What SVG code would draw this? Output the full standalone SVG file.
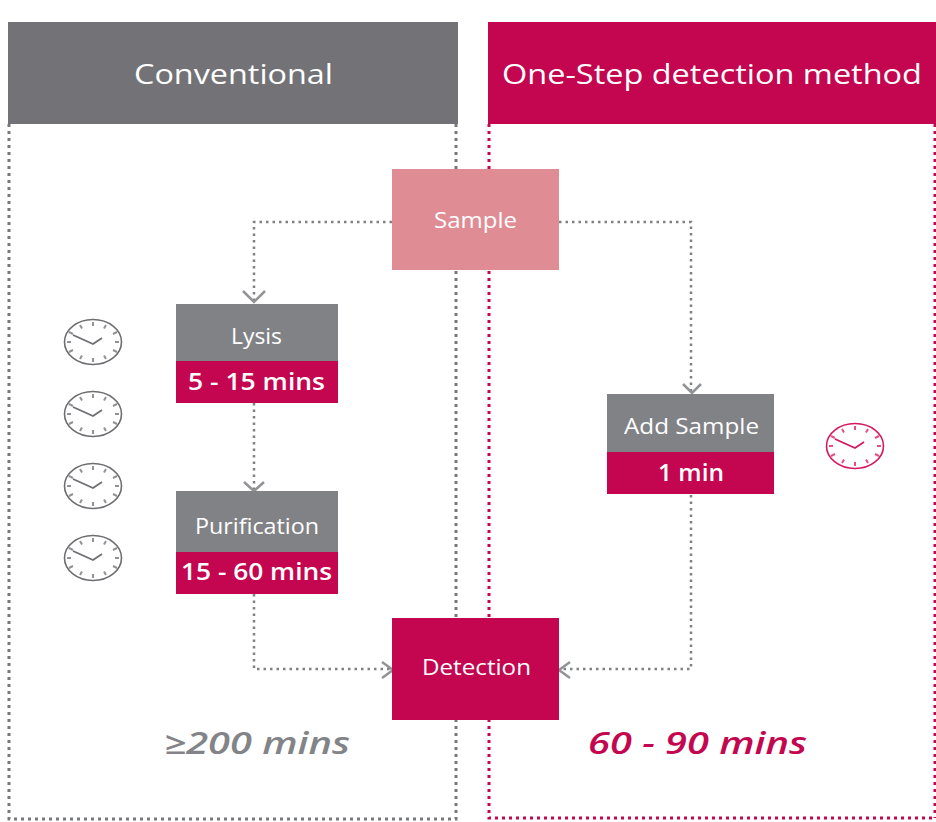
<svg xmlns="http://www.w3.org/2000/svg" width="936" height="822" viewBox="0 0 936 822">
<style>
text{font-family:"Open Sans","Liberation Sans",sans-serif;text-anchor:middle}
.w{fill:#fff}
.t{font-size:23px;font-weight:600}
.g{fill:#737377}.gl{fill:#818286}.r{fill:#c3064f}
.dg{fill:none;stroke:#808184;stroke-width:2.500;stroke-dasharray:2.500 4}
.dgp{fill:none;stroke:#77787b;stroke-width:3;stroke-dasharray:3 4}
.dr{fill:none;stroke:#c3064f;stroke-width:3;stroke-dasharray:3 4}
.ar{fill:none;stroke:#929396;stroke-width:2.500}
.ck{fill:#fff;stroke:currentColor;stroke-width:1.600}
.tk{fill:none;stroke:currentColor;stroke-width:2;opacity:.75}
.hd{fill:none;stroke:currentColor;stroke-width:1.800}
</style>
<defs>
<g id="clock">
<ellipse class="ck" cx="0" cy="0" rx="28.500" ry="22.500"/>
<path class="tk" d="M0-20v4M0 20v-4M13-17l-2 3.500M-13-17l2 3.500M13 17l-2-3.500M-13 17l2-3.500M24-10l-4 2M-24-10l4 2M24 10l-4-2M-24 10l4-2M26 0h-4M-26 0h4"/>
<path class="hd" d="M-20-7L0 2L9-4"/>
</g>
</defs>
<rect width="936" height="822" fill="#fff"/>
<g id="panel-conventional">
<path class="dgp" d="M9 124V819H456V124"/>
<rect class="g" x="8" y="22" width="450" height="102"/>
<text class="w" x="233.500" y="84" font-size="28" textLength="199" lengthAdjust="spacingAndGlyphs">Conventional</text>
<text x="257" y="754" font-size="30" font-style="italic" font-weight="600" fill="#838487" textLength="186" lengthAdjust="spacingAndGlyphs">≥200 mins</text>
</g>
<g id="panel-one-step">
<path class="dr" d="M489 124V818H936M935 124V818"/>
<rect class="r" x="488" y="22" width="448" height="102"/>
<text class="w" x="712" y="84" font-size="28" textLength="420" lengthAdjust="spacingAndGlyphs">One-Step detection method</text>
<text x="697.500" y="754" font-size="30" font-style="italic" font-weight="600" fill="#c3064f" textLength="219" lengthAdjust="spacingAndGlyphs">60 - 90 mins</text>
</g>
<g id="connectors">
<path class="dg" d="M392 222H254V302"/>
<path class="ar" d="M243 291L254 302L265 291"/>
<path class="dg" d="M559 222H691V392"/>
<path class="ar" d="M683 384L692 393L701 384"/>
<path class="dg" d="M254 403V491"/>
<path class="ar" d="M244 482L254 491L264 482"/>
<path class="dg" d="M254 594V669H392"/>
<path class="ar" d="M382 662L393 670L382 678"/>
<path class="dg" d="M691 495V669H560"/>
<path class="ar" d="M570 662L559 670L570 678"/>
</g>
<g id="sample"><rect x="392" y="169" width="167" height="101" fill="#df8c94"/><text class="w" x="475.500" y="228" font-size="21" textLength="83" lengthAdjust="spacingAndGlyphs">Sample</text></g>
<g id="lysis"><rect class="gl" x="176" y="304" width="162" height="57"/><rect class="r" x="176" y="361" width="162" height="42"/><text class="w" x="256.500" y="344" font-size="21" textLength="51" lengthAdjust="spacingAndGlyphs">Lysis</text><text class="w t" x="256.500" y="390" textLength="137" lengthAdjust="spacingAndGlyphs">5 - 15 mins</text></g>
<g id="purification"><rect class="gl" x="176" y="491" width="162" height="61"/><rect class="r" x="176" y="552" width="162" height="42"/><text class="w" x="257" y="534" font-size="21" textLength="124" lengthAdjust="spacingAndGlyphs">Purification</text><text class="w t" x="256.500" y="580" textLength="151" lengthAdjust="spacingAndGlyphs">15 - 60 mins</text></g>
<g id="add-sample"><rect class="gl" x="607" y="394" width="167" height="58"/><rect class="r" x="607" y="452" width="167" height="42"/><text class="w" x="691.500" y="434" font-size="22" textLength="135" lengthAdjust="spacingAndGlyphs">Add Sample</text><text class="w t" x="691" y="481" textLength="66" lengthAdjust="spacingAndGlyphs">1 min</text></g>
<g id="detection"><rect class="r" x="392" y="618" width="167" height="102"/><text class="w" x="476.500" y="675" font-size="22" textLength="109" lengthAdjust="spacingAndGlyphs">Detection</text></g>
<g id="clocks">
<use href="#clock" x="93" y="342" color="#6d6e71"/>
<use href="#clock" x="93" y="414" color="#6d6e71"/>
<use href="#clock" x="93" y="486" color="#6d6e71"/>
<use href="#clock" x="93" y="558" color="#6d6e71"/>
<use href="#clock" x="855" y="446" color="#d6175f"/>
</g>
</svg>
